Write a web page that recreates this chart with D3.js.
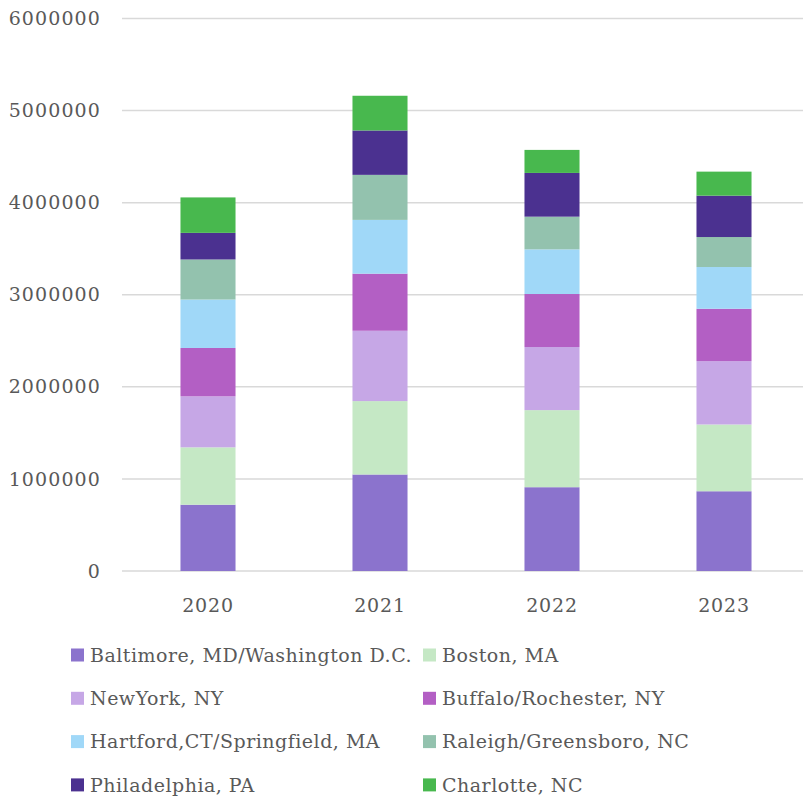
<!DOCTYPE html>
<html>
<head>
<meta charset="utf-8">
<script src="https://cdn.jsdelivr.net/npm/d3@7"></script>
<style>
  body { margin: 0; background: #fff; }
  svg text { font-family: "DejaVu Serif", "Liberation Serif", serif; fill: #595959; }
</style>
</head>
<body>
<div id="chart"></div>
<script>
const years = ["2020", "2021", "2022", "2023"];
const regions = [
    "Baltimore, MD/Washington D.C.",
    "Boston, MA",
    "New York, NY",
    "Buffalo/Rochester, NY",
    "Hartford, CT/Springfield, MA",
    "Raleigh/Greensboro, NC",
    "Philadelphia, PA",
    "Charlotte, NC"
];
const legendLabels = [
    "Baltimore, MD/Washington D.C.",
    "Boston, MA",
    "NewYork, NY",
    "Buffalo/Rochester, NY",
    "Hartford,CT/Springfield, MA",
    "Raleigh/Greensboro, NC",
    "Philadelphia, PA",
    "Charlotte, NC"
];
const regionColors = ["#8b73cd", "#c5e8c5", "#c6a7e6", "#b35fc4", "#a0d8f8", "#93c2ae", "#4b3190", "#48b84e"];

// values per region, one per year
const baltimore    = [720000, 1048000, 910000, 866000];
const boston       = [623000, 797000, 837000, 725000];
const newYork      = [554000, 764000, 685000, 688000];
const buffalo      = [525000, 620000, 576000, 569000];
const hartford     = [526000, 584000, 485000, 453000];
const raleigh      = [435000, 489000, 355000, 326000];
const philadelphia = [289000, 482000, 475000, 449000];
const charlotte    = [385000, 377000, 250000, 261000];

const yTicks = [0, 1000000, 2000000, 3000000, 4000000, 5000000, 6000000];

const series = [baltimore, boston, newYork, buffalo, hartford, raleigh, philadelphia, charlotte];
const table = years.map((yr, i) => {
    const row = { year: yr };
    regions.forEach((r, j) => row[r] = series[j][i]);
    return row;
});

const width = 803, height = 800;

const svg = d3.select("#chart").append("svg")
              .attr("width", width)
              .attr("height", height);

const x = d3.scaleBand()
            .domain(years)
            .range([122, 810])
            .paddingInner(0.68)
            .paddingOuter(0.34);

const y = d3.scaleLinear()
            .domain([0, 6000000])
            .range([571, 18.5]);

const color = d3.scaleOrdinal()
                .domain(regions)
                .range(regionColors);

// gridlines
svg.append("g")
   .selectAll("line")
   .data(yTicks)
   .enter().append("line")
   .attr("x1", 122)
   .attr("x2", width)
   .attr("y1", d => y(d))
   .attr("y2", d => y(d))
   .attr("stroke", "#d9d9d9")
   .attr("stroke-width", 1.5);

// y labels
svg.append("g")
   .selectAll("text")
   .data(yTicks)
   .enter().append("text")
   .attr("x", 101)
   .attr("y", d => y(d))
   .attr("dy", "0.35em")
   .attr("text-anchor", "end")
   .style("font-size", "19px")
   .style("letter-spacing", "1.1px")
   .text(d => d);

const stacked = d3.stack().keys(regions)(table);

svg.append("g")
   .selectAll("g")
   .data(stacked)
   .enter().append("g")
   .attr("fill", d => color(d.key))
   .selectAll("rect")
   .data(d => d)
   .enter().append("rect")
   .attr("x", d => x(d.data.year))
   .attr("y", d => y(d[1]))
   .attr("width", x.bandwidth())
   .attr("height", d => y(d[0]) - y(d[1]));

// x labels
svg.append("g")
   .selectAll("text")
   .data(years)
   .enter().append("text")
   .attr("x", d => x(d) + x.bandwidth() / 2)
   .attr("y", 605)
   .attr("dy", "0.35em")
   .attr("text-anchor", "middle")
   .style("font-size", "19px")
   .style("letter-spacing", "0.8px")
   .text(d => d);

// legend
const legend = svg.append("g");
regions.forEach((r, i) => {
    const col = i % 2, row = Math.floor(i / 2);
    const lx = col === 0 ? 71 : 423;
    const ly = 655 + row * 43.3;
    legend.append("rect")
          .attr("x", lx)
          .attr("y", ly - 6.5)
          .attr("width", 13)
          .attr("height", 13)
          .attr("fill", color(r));
    legend.append("text")
          .attr("x", lx + 19)
          .attr("y", ly)
          .attr("dy", "0.35em")
          .style("font-size", "19px")
          .style("letter-spacing", "0.5px")
          .text(legendLabels[i]);
});
</script>
</body>
</html>
